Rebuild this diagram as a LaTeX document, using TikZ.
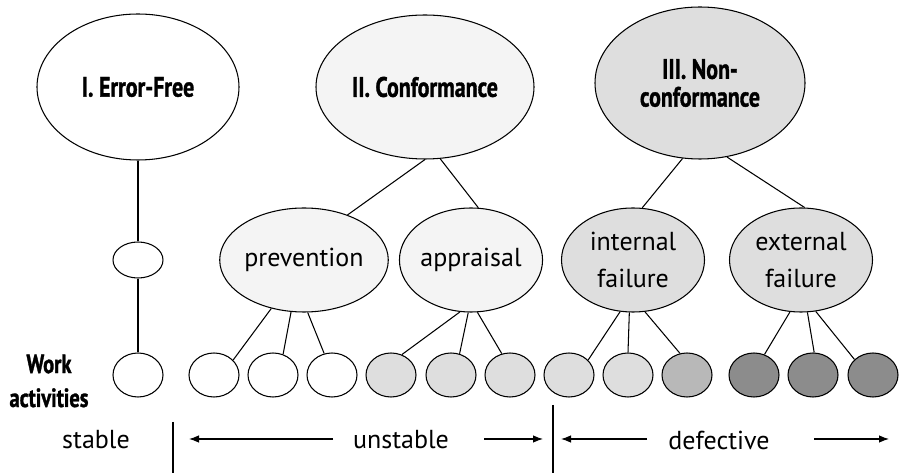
\documentclass[tikz,border=0pt]{standalone}
\usepackage{fontspec}
\setmainfont{PT Sans}
\newfontfamily\headfont[FakeStretch=0.78,FakeBold=1.2]{PT Sans}
\usetikzlibrary{arrows.meta,shapes.geometric}
\definecolor{paleg}{gray}{0.955}
\definecolor{lightg}{gray}{0.87}
\definecolor{midg}{gray}{0.72}
\definecolor{darkg}{gray}{0.55}

\begin{document}
\begin{tikzpicture}[x=0.2mm,y=-0.2mm,line width=0.6pt,
  font=\fontsize{14.8}{21}\selectfont,>={Latex[length=2mm,width=1.5mm]},
  oval/.style={draw,ellipse,inner sep=0pt,align=center},
  headtext/.style={font=\headfont\bfseries\fontsize{16}{15.8}\selectfont},
  costbox/.style={oval,minimum width=28.6mm,minimum height=20.8mm},
  workdot/.style={oval,minimum width=10mm,minimum height=8.8mm}]
\useasboundingbox (0,0) rectangle (900,473);

% three kinds of cost
\node[oval,headtext,fill=white,minimum width=40.4mm,minimum height=29.2mm]
  (free) at (138,87) {I. Error-Free};
\node[oval,headtext,fill=paleg,minimum width=43.6mm,minimum height=28.8mm]
  (conf) at (425,87) {II. Conformance};
\node[oval,headtext,fill=lightg,minimum width=42mm,minimum height=30.4mm]
  (nonc) at (700,83) {III. Non-\\conformance};

\node[workdot,minimum height=7.2mm,fill=white] (dot) at (138,260) {};
\node[costbox,fill=paleg] (prev) at (304,260) {prevention};
\node[costbox,fill=paleg] (appr) at (471,260) {appraisal};
\node[costbox,fill=lightg] (intf) at (633,260) {internal\\failure};
\node[costbox,fill=lightg] (extf) at (801,260) {external\\failure};

% work activities
\node[headtext,font=\headfont\bfseries\fontsize{15}{19.3}\selectfont,align=center]
  (work) at (49,381) {Work\\activities};
\node[workdot,fill=white] (w1) at (138,375) {};
\node[workdot,fill=white] (w2) at (214,375) {};
\node[workdot,fill=white] (w3) at (273,375) {};
\node[workdot,fill=white] (w4) at (332,375) {};
\node[workdot,fill=lightg] (w5) at (391,375) {};
\node[workdot,fill=lightg] (w6) at (451,375) {};
\node[workdot,fill=lightg] (w7) at (510,375) {};
\node[workdot,fill=lightg] (w8) at (569,375) {};
\node[workdot,fill=lightg] (w9) at (628,375) {};
\node[workdot,fill=midg] (w10) at (687,375) {};
\node[workdot,fill=darkg] (w11) at (754,375) {};
\node[workdot,fill=darkg] (w12) at (813,375) {};
\node[workdot,fill=darkg] (w13) at (873,375) {};

\draw (free) -- (dot);
\draw (dot) -- (w1);
\draw (conf.-90) -- (prev.46);
\draw (conf.-78) -- (appr.82);
\draw (nonc.-103) -- (intf.80);
\draw (nonc.-70) -- (extf.86);
\draw (prev.-124) -- (w2.38);
\draw (prev.-104) -- (w3.64);
\draw (prev.-86) -- (w4.110);
\draw (appr.-102) -- (w5.62);
\draw (appr.-93) -- (w6.68);
\draw (appr.-83) -- (w7.111);
\draw (intf.-104) -- (w8.38);
\draw (intf.-94) -- (w9.90);
\draw (intf.-77) -- (w10.108);
\draw (extf.-102) -- (w11.63);
\draw (extf.-83) -- (w12.87);
\draw (extf.-74) -- (w13.140);

% stable / unstable / defective
\node (stable) at (96,440) {stable};
\node (unstable) at (401,440) {unstable};
\node (defect) at (719,440) {defective};
\coordinate (bar1) at (173,422);
\coordinate (bar1b) at (173,473);
\coordinate (bar2) at (553,405);
\coordinate (bar2b) at (553,473);
\draw (bar1) -- (bar1b);
\draw (bar2) -- (bar2b);

\coordinate (u1) at (333,439);
\coordinate (u1e) at (189,439);
\coordinate (u2) at (484,439);
\coordinate (u2e) at (543,439);
\coordinate (d1) at (647,439);
\coordinate (d1e) at (561,439);
\coordinate (d2) at (814,439);
\coordinate (d2e) at (889,439);
\draw[->] (u1) -- (u1e);
\draw[->] (u2) -- (u2e);
\draw[->] (d1) -- (d1e);
\draw[->] (d2) -- (d2e);
\end{tikzpicture}
\end{document}
